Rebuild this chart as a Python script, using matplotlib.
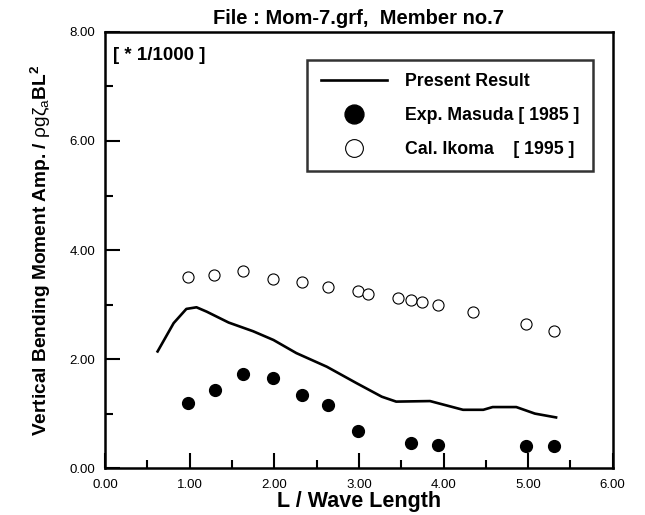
import numpy as np
from matplotlib import pyplot as plt
from matplotlib.ticker import MultipleLocator, FormatStrFormatter

# present result (solid line)
line_x = [0.62, 0.81, 0.96, 1.08, 1.20, 1.46, 1.75, 1.99, 2.26, 2.62, 2.97,
          3.27, 3.44, 3.84, 4.23, 4.47, 4.58, 4.86, 5.08, 5.33]
line_y = [2.14, 2.66, 2.92, 2.95, 2.87, 2.67, 2.51, 2.35, 2.11, 1.86, 1.56,
          1.31, 1.22, 1.23, 1.07, 1.07, 1.12, 1.12, 1.00, 0.93]

# Exp. Masuda [1985]
exp_x = [0.98, 1.30, 1.63, 1.99, 2.33, 2.63, 2.99, 3.62, 3.93, 4.97, 5.30]
exp_y = [1.19, 1.44, 1.72, 1.65, 1.34, 1.16, 0.69, 0.46, 0.43, 0.40, 0.40]

# Cal. Ikoma [1995]
cal_x = [0.98, 1.29, 1.63, 1.98, 2.33, 2.63, 2.99, 3.11, 3.46, 3.62, 3.74,
         3.93, 4.35, 4.97, 5.30]
cal_y = [3.50, 3.55, 3.61, 3.47, 3.41, 3.33, 3.24, 3.19, 3.12, 3.09, 3.05,
         3.00, 2.87, 2.64, 2.52]

plt.rcParams['font.family'] = ['Liberation Sans', 'DejaVu Sans']
plt.rcParams['mathtext.fontset'] = 'custom'
plt.rcParams['mathtext.rm'] = 'Liberation Sans'
plt.rcParams['mathtext.it'] = 'Liberation Sans:italic'
plt.rcParams['mathtext.bf'] = 'Liberation Sans:bold'

fig = plt.figure(figsize=(6.45, 5.15), dpi=100)
ax = fig.add_axes([0.163, 0.091, 0.787, 0.847])

ax.plot(line_x, line_y, color='black', lw=1.9, label='Present Result')
ax.plot(exp_x, exp_y, 'o', color='black', ms=8.5, label='Exp. Masuda [ 1985 ]')
ax.plot(cal_x, cal_y, 'o', mfc='white', mec='black', mew=0.8, ms=8,
        label='Cal. Ikoma    [ 1995 ]')

ax.set_xlim(0, 6)
ax.set_ylim(0, 8)
ax.xaxis.set_major_locator(MultipleLocator(1))
ax.xaxis.set_minor_locator(MultipleLocator(0.5))
ax.yaxis.set_major_locator(MultipleLocator(2))
ax.yaxis.set_minor_locator(MultipleLocator(1))
ax.xaxis.set_major_formatter(FormatStrFormatter('%.2f'))
ax.yaxis.set_major_formatter(FormatStrFormatter('%.2f'))
ax.tick_params(which='both', direction='in', width=1.5, labelsize=9.5, top=False, right=False)
ax.tick_params(which='major', length=11)
ax.tick_params(which='minor', length=6)
ax.tick_params(axis='x', which='major', pad=8)
ax.tick_params(axis='y', which='major', pad=7)
for s in ax.spines.values():
    s.set_linewidth(1.8)

ax.set_xlabel('L / Wave Length', fontsize=15.5, fontweight='bold', labelpad=0)
ax.set_ylabel('Vertical Bending Moment Amp. / $\\mathrm{ρgζ_a}$BL$^{\\mathbf{2}}$',
              fontsize=13.8, fontweight='bold', labelpad=12)
ax.set_title('File : Mom-7.grf,  Member no.7', fontsize=14.5, fontweight='bold', pad=6)
ax.text(0.016, 0.965, '[ * 1/1000 ]', transform=ax.transAxes, fontsize=13.5,
        fontweight='bold', va='top', ha='left')

leg = ax.legend(loc='upper right', bbox_to_anchor=(0.961, 0.936), frameon=True,
                fancybox=False, edgecolor='black', handlelength=3.75, handletextpad=1.0,
                borderpad=0.75, labelspacing=0.95, borderaxespad=0, markerscale=1.6,
                prop={'weight': 'bold', 'size': 12.8})
leg.get_frame().set_linewidth(1.8)

plt.savefig('out.png', dpi=100)
